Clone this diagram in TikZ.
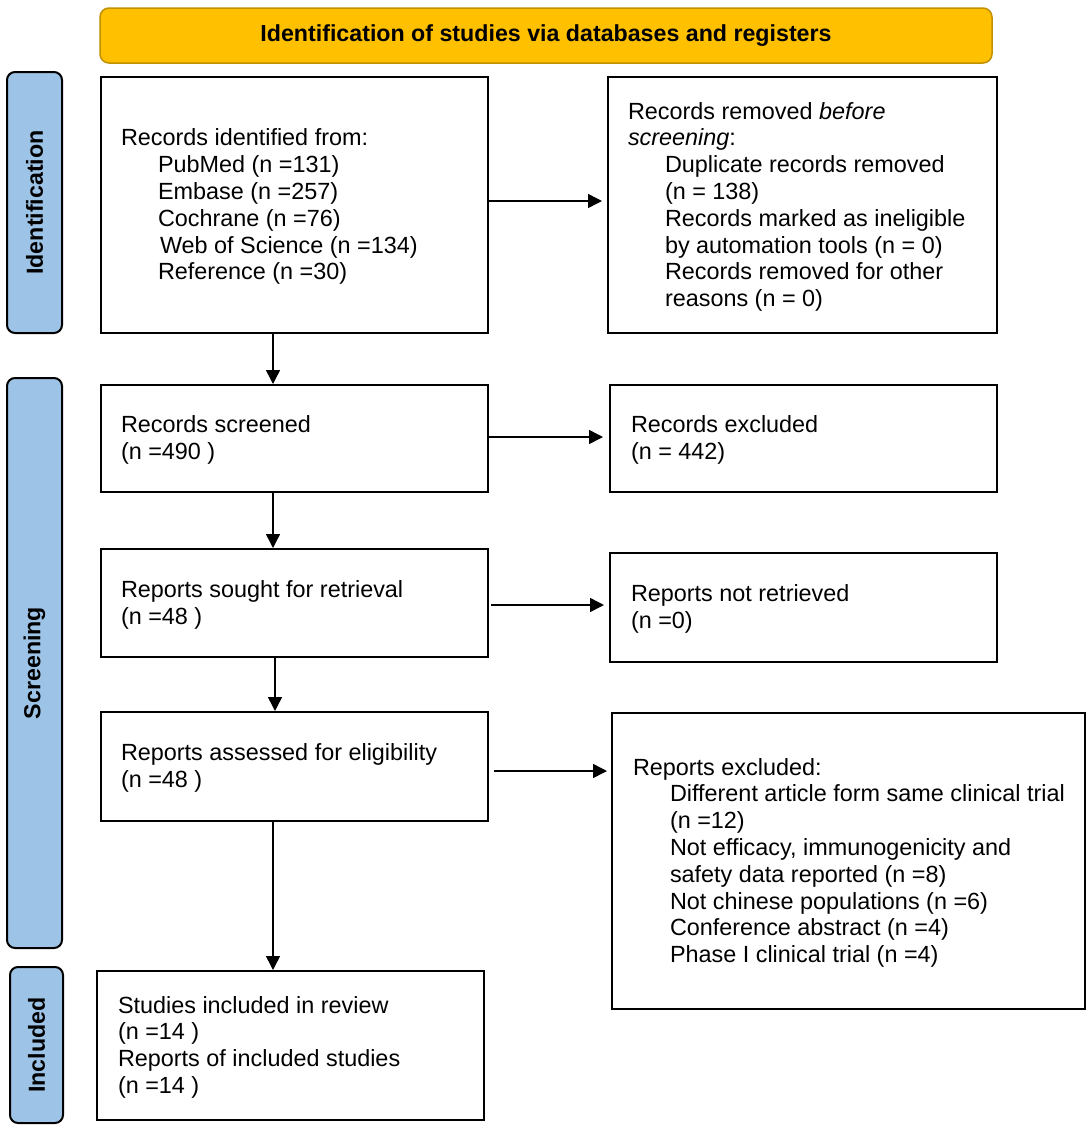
\documentclass[tikz,border=0pt]{standalone}
\usepackage{fontspec}
\setmainfont{Liberation Sans}
\usepackage{graphicx}
\usetikzlibrary{arrows.meta,calc}
\definecolor{bannerfill}{HTML}{FFC000}
\definecolor{bannerdraw}{HTML}{BF9000}
\definecolor{labfill}{HTML}{9DC3E6}
\newcommand{\boxlines}[2]{\makebox[#1][l]{\raisebox{-2.5pt}[\height][\depth]{\begin{tabular}{@{}l@{}}#2\end{tabular}}}}
\newcommand{\ind}{\hspace*{37pt}}
\begin{document}
\begin{tikzpicture}[x=1pt,y=-1pt,
  every node/.style={font=\fontsize{23.4}{26.8}\selectfont},
  flowbox/.style={draw=black,line width=2pt,fill=white,inner xsep=20pt,inner ysep=0pt,rectangle},
  labelbox/.style={draw=black,line width=2pt,fill=labfill,rounded corners=8pt,inner sep=0pt,
    font=\fontsize{23.2}{26.8}\selectfont\bfseries},
  arr/.style={line width=1.5pt,-{Triangle[length=14pt,width=14pt]}}]
\useasboundingbox (0,0) rectangle (1092,1130);
\fill[white] (0,0) rectangle (1092,1130);

% banner
\node[draw=bannerdraw,line width=1.5pt,fill=bannerfill,rounded corners=9pt,
  minimum width=892pt,minimum height=55pt,inner sep=0pt,
  font=\fontsize{23.2}{26.8}\selectfont\bfseries] (banner) at (546,35.5)
  {Identification of studies via databases and registers};

% side labels
\node[labelbox,minimum width=55pt,minimum height=261pt] (lid) at (34.5,202.5) {\rotatebox{90}{Identification}};
\node[labelbox,minimum width=55pt,minimum height=570pt] (lsc) at (34.5,663) {\rotatebox{90}{Screening}};
\node[labelbox,minimum width=53pt,minimum height=156pt] (lin) at (36.5,1045) {\rotatebox{90}{Included}};

% boxes
\node[flowbox,minimum width=387pt,minimum height=256pt] (b1) at (294.5,205)
  {\boxlines{347pt}{Records identified from:\\
   \ind PubMed (n =131)\\
   \ind Embase (n =257)\\
   \ind Cochrane (n =76)\\
   \hspace*{39pt}Web of Science (n =134)\\
   \ind Reference (n =30)}};

\node[flowbox,minimum width=389pt,minimum height=256pt] (b2) at (802.5,205)
  {\boxlines{349pt}{Records removed \textit{before}\\
   \textit{screening}:\\
   \ind Duplicate records removed\\
   \ind (n = 138)\\
   \ind Records marked as ineligible\\
   \ind by automation tools (n = 0)\\
   \ind Records removed for other\\
   \ind reasons (n = 0)}};

\node[flowbox,minimum width=387pt,minimum height=107pt] (b3) at (294.5,438.5)
  {\boxlines{347pt}{Records screened\\(n =490 )}};

\node[flowbox,minimum width=387pt,minimum height=107pt,inner xsep=21pt] (b4) at (803.5,438.5)
  {\boxlines{345pt}{Records excluded\\(n = 442)}};

\node[flowbox,minimum width=387pt,minimum height=108pt] (b5) at (294.5,603)
  {\boxlines{347pt}{Reports sought for retrieval\\(n =48 )}};

\node[flowbox,minimum width=387pt,minimum height=109pt,inner xsep=21pt] (b6) at (803.5,607.5)
  {\boxlines{345pt}{Reports not retrieved\\(n =0)}};

\node[flowbox,minimum width=387pt,minimum height=109pt] (b7) at (294.5,766.5)
  {\boxlines{347pt}{Reports assessed for eligibility\\(n =48 )}};

\node[flowbox,minimum width=473pt,minimum height=296pt,inner xsep=21pt] (b8) at (848.5,861)
  {\boxlines{431pt}{Reports excluded:\\
   \ind Different article form same clinical trial\\
   \ind (n =12)\\
   \ind Not efficacy, immunogenicity and\\
   \ind safety data reported (n =8)\\
   \ind Not chinese populations (n =6)\\
   \ind Conference abstract (n =4)\\
   \ind Phase I clinical trial (n =4)}};

\node[flowbox,minimum width=387pt,minimum height=149pt,inner xsep=21pt] (b9) at (290.5,1045.5)
  {\boxlines{345pt}{Studies included in review\\
   (n =14 )\\
   Reports of included studies\\
   (n =14 )}};

% vertical connectors
\coordinate (v1) at ([xshift=-21.5pt]b1.south);
\draw[arr] (v1) -- (v1 |- b3.north);
\coordinate (v2) at ([xshift=-21.5pt]b3.south);
\draw[arr] (v2) -- (v2 |- b5.north);
\coordinate (v3) at ([xshift=-19.5pt]b5.south);
\draw[arr] (v3) -- (v3 |- b7.north);
\coordinate (v4) at ([xshift=-21.5pt]b7.south);
\draw[arr] (v4) -- (v4 |- b9.north);

% horizontal connectors
\coordinate (h1) at ([yshift=4pt]b1.east);
\draw[arr,shorten >=5pt] (h1) -- (h1 -| b2.west);
\coordinate (h2) at ([yshift=1.5pt]b3.east);
\draw[arr,shorten >=6pt] (h2) -- (h2 -| b4.west);
\coordinate (h3) at ([xshift=2pt,yshift=-2pt]b5.east);
\draw[arr,shorten >=5pt] (h3) -- (h3 -| b6.west);
\coordinate (h4) at ([xshift=5pt,yshift=-4.5pt]b7.east);
\draw[arr,shorten >=4pt] (h4) -- (h4 -| b8.west);
\end{tikzpicture}
\end{document}
